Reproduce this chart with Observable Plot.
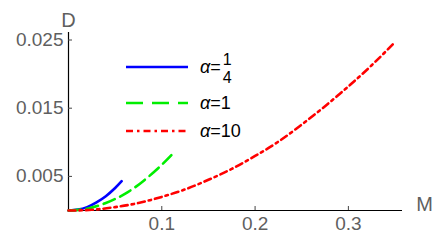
<!DOCTYPE html>
<html>
<head>
<meta charset="utf-8">
<script src="https://cdn.jsdelivr.net/npm/d3@7"></script>
<script src="https://cdn.jsdelivr.net/npm/@observablehq/plot@0.6"></script>
<style>
  html, body { margin: 0; padding: 0; background: #fff; }
  #wrap { position: relative; width: 436px; height: 240px; font-family: "Liberation Sans", Arial, sans-serif; }
  #legend { position: absolute; left: 0; top: 0; width: 436px; height: 240px; pointer-events: none; }
  .lg-row { position: absolute; display: flex; align-items: center; }
  .lg-text { font-size: 18px; color: #000; margin-left: 12px; display: flex; align-items: center; }
  .frac { display: inline-flex; flex-direction: column; align-items: center; font-size: 16px; line-height: 18px; margin-left: 2px; margin-top: 4px; }
</style>
</head>
<body>
<div id="wrap"><div id="chart"></div><div id="legend"></div></div>
<script>
// Data
const mQuarter = [0, 0.01, 0.02, 0.03, 0.04, 0.05, 0.057];
const dQuarter = [0, 0.00013, 0.0005, 0.0012, 0.0021, 0.0033, 0.0043];
const mOne = [0, 0.02, 0.04, 0.06, 0.08, 0.1, 0.113];
const dOne = [0, 0.00027, 0.0011, 0.0024, 0.0043, 0.0067, 0.0085];
const mTen = [0, 0.025, 0.05, 0.075, 0.1, 0.125, 0.15, 0.175, 0.2, 0.225, 0.25, 0.275, 0.3, 0.325, 0.35];
const dTen = [0, 0.0001, 0.0005, 0.0011, 0.002, 0.0031, 0.0045, 0.0061, 0.008, 0.0101, 0.0126, 0.0153, 0.0182, 0.0213, 0.0247];
const xTicks = [0.1, 0.2, 0.3];
const yTicks = [0.005, 0.015, 0.025];
const seriesNames = ["α=1/4", "α=1", "α=10"];
const seriesColors = ["#0000ff", "#00ee00", "#ff0000"];
const curveDash = [null, "12,6", "7,4,2.5,4"];
const legendDash = [null, "17,9", "7,4,2.5,4"];

const toRows = (ms, ds) => ms.map((m, i) => ({M: m, D: ds[i]}));
const series = [toRows(mQuarter, dQuarter), toRows(mOne, dOne), toRows(mTen, dTen)];

const gray = "#5f5f5f";
const plot = Plot.plot({
  width: 436, height: 240,
  marginLeft: 68, marginRight: 34, marginTop: 32, marginBottom: 30,
  style: {fontFamily: "Liberation Sans, Arial, sans-serif", background: "#fff"},
  x: {domain: [0, 0.358]},
  y: {domain: [0, 0.0261]},
  marks: [
    Plot.ruleY([0], {stroke: "#000", strokeWidth: 1.2}),
    Plot.ruleX([0], {stroke: "#000", strokeWidth: 1.2}),
    Plot.axisX({ticks: xTicks, tickSize: -4, stroke: "#444", tickFormat: d3.format(".1f"), label: null,
      fill: gray, fontSize: 19, tickPadding: 10, style: {letterSpacing: "1.5px"}}),
    Plot.axisY({ticks: yTicks, tickSize: -4, stroke: "#444", tickFormat: d3.format(".3f"), label: null,
      fill: gray, fontSize: 19, tickPadding: 9, style: {letterSpacing: "1.5px"}}),
    ...series.map((rows, i) => Plot.line(rows, {x: "M", y: "D", stroke: seriesColors[i], strokeWidth: 2.6,
      strokeDasharray: curveDash[i], curve: "natural"})),
    Plot.text(["D"], {frameAnchor: "top-left", dx: 0, dy: -20, text: d => d, fill: gray, fontSize: 20, textAnchor: "middle"}),
    Plot.text(["M"], {frameAnchor: "bottom-right", dx: 22, dy: 0, text: d => d, fill: gray, fontSize: 20, textAnchor: "middle"})
  ]
});
document.getElementById("chart").appendChild(plot);

// Legend (HTML overlay)
const legend = document.getElementById("legend");
const rowsTop = [67, 103, 131];
seriesNames.forEach((name, i) => {
  const row = document.createElement("div");
  row.className = "lg-row";
  row.style.left = "126px";
  row.style.top = (rowsTop[i] - 12) + "px";
  row.style.height = "24px";
  const sw = document.createElementNS("http://www.w3.org/2000/svg", "svg");
  sw.setAttribute("width", 62); sw.setAttribute("height", 24);
  const ln = document.createElementNS("http://www.w3.org/2000/svg", "line");
  ln.setAttribute("x1", 0); ln.setAttribute("x2", 62); ln.setAttribute("y1", 12); ln.setAttribute("y2", 12);
  ln.setAttribute("stroke", seriesColors[i]); ln.setAttribute("stroke-width", 2.4);
  if (legendDash[i]) ln.setAttribute("stroke-dasharray", legendDash[i]);
  sw.appendChild(ln);
  row.appendChild(sw);
  const t = document.createElement("div");
  t.className = "lg-text";
  const val = name.split("=")[1];
  if (val.includes("/")) {
    const [n, d] = val.split("/");
    t.innerHTML = "<span style='font-style:italic'>α</span><span>=</span><span class='frac'><span>" + n + "</span><span>" + d + "</span></span>";
  } else {
    t.innerHTML = "<span style='font-style:italic'>α</span><span>=" + val + "</span>";
  }
  row.appendChild(t);
  legend.appendChild(row);
});
</script>
</body>
</html>
